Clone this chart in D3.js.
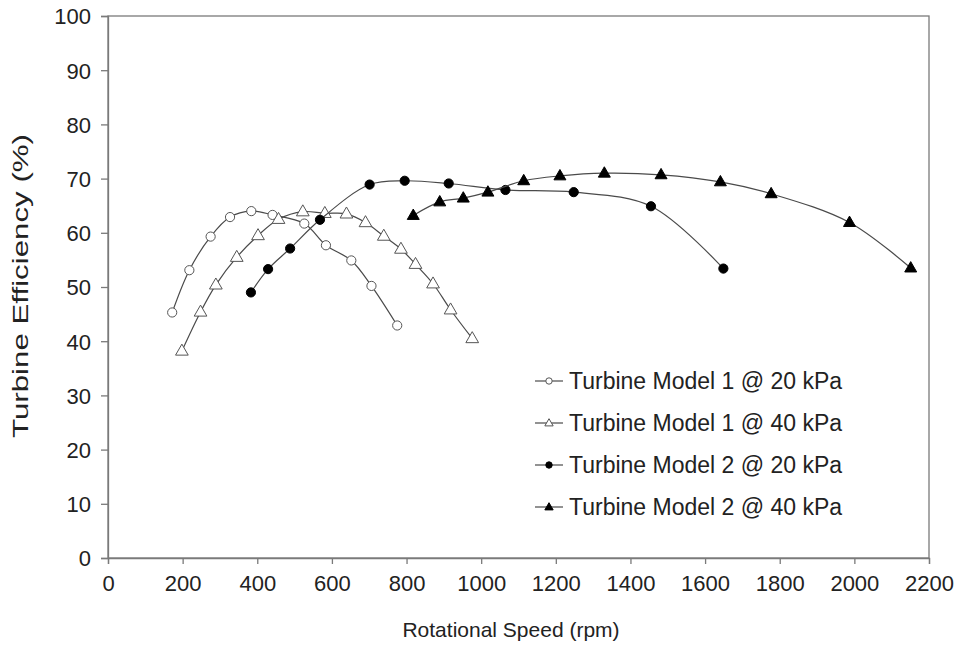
<!DOCTYPE html>
<html>
<head>
<meta charset="utf-8">
<script src="https://cdn.jsdelivr.net/npm/d3@7"></script>
<style>
  body { margin: 0; background: #fff; }
  svg text { font-family: "Liberation Sans", Arial, sans-serif; fill: #222; }
</style>
</head>
<body>
<div id="chart"></div>
<script>
// Turbine efficiency vs rotational speed

// Data
var m1_20_rpm = [172, 218, 275, 327, 384, 441, 526, 584, 652, 706, 775];
var m1_20_eff = [45.3, 53.1, 59.3, 62.9, 64.0, 63.3, 61.7, 57.7, 54.9, 50.2, 42.9];

var m1_40_rpm = [198, 248, 289, 345, 402, 457, 522, 581, 639, 690, 739, 785, 824, 871, 918, 976];
var m1_40_eff = [38.2, 45.4, 50.4, 55.5, 59.5, 62.5, 63.9, 63.6, 63.5, 61.9, 59.4, 57.0, 54.2, 50.6, 45.8, 40.5];

var m2_20_rpm = [383, 429, 488, 568, 701, 795, 913, 1065, 1248, 1455, 1649];
var m2_20_eff = [49.0, 53.3, 57.1, 62.4, 68.9, 69.6, 69.1, 67.9, 67.5, 64.9, 53.4];

var m2_40_rpm = [818, 889, 952, 1018, 1114, 1211, 1330, 1482, 1641, 1777, 1987, 2151];
var m2_40_eff = [63.2, 65.7, 66.4, 67.5, 69.6, 70.5, 71.0, 70.7, 69.4, 67.2, 61.9, 53.5];

var seriesNames = ["Turbine Model 1 @ 20 kPa", "Turbine Model 1 @ 40 kPa",
                   "Turbine Model 2 @ 20 kPa", "Turbine Model 2 @ 40 kPa"];
var xTicks = [0, 200, 400, 600, 800, 1000, 1200, 1400, 1600, 1800, 2000, 2200];
var yTicks = [0, 10, 20, 30, 40, 50, 60, 70, 80, 90, 100];

var series = [
  { name: seriesNames[0], x: m1_20_rpm, y: m1_20_eff, shape: "circle",   filled: false },
  { name: seriesNames[1], x: m1_40_rpm, y: m1_40_eff, shape: "triangle", filled: false },
  { name: seriesNames[2], x: m2_20_rpm, y: m2_20_eff, shape: "circle",   filled: true },
  { name: seriesNames[3], x: m2_40_rpm, y: m2_40_eff, shape: "triangle", filled: true }
];

var W = 961, H = 645;
var margin = { top: 16, left: 108, right: 32, bottom: 87 };
var width = W - margin.left - margin.right;
var height = H - margin.top - margin.bottom;

var svg = d3.select("#chart").append("svg")
    .attr("width", W)
    .attr("height", H);

var g = svg.append("g")
    .attr("transform", "translate(" + margin.left + "," + margin.top + ")");

var x = d3.scaleLinear().domain([0, 2200]).range([0, width]);
var y = d3.scaleLinear().domain([0, 100]).range([height, 0]);

var axisColor = "#7a7a7a";
var lineColor = "#4a4a4a";

// frame around plot area
g.append("rect")
    .attr("width", width)
    .attr("height", height)
    .attr("fill", "none")
    .attr("stroke", axisColor)
    .attr("stroke-width", 1.3);

// axes
var xAxis = d3.axisBottom(x).tickValues(xTicks).tickSize(6).tickFormat(d3.format("d"));
var yAxis = d3.axisLeft(y).tickValues(yTicks).tickSize(7).tickFormat(d3.format("d"));

g.append("g")
    .attr("class", "x axis")
    .attr("transform", "translate(0," + height + ")")
    .call(xAxis)
    .call(styleAxis)
    .selectAll(".tick text").attr("y", 0).attr("dy", 33);

g.append("g")
    .attr("class", "y axis")
    .call(yAxis)
    .call(styleAxis)
    .selectAll(".tick text").attr("x", -17).attr("dy", "0.36em");

function styleAxis(sel) {
  sel.select(".domain").attr("stroke", axisColor).attr("stroke-width", 1.3);
  sel.selectAll(".tick line").attr("stroke", axisColor).attr("stroke-width", 1.3);
  sel.selectAll(".tick text")
      .style("font-size", "22px")
      .style("font-family", "'Liberation Sans', Arial, sans-serif")
      .attr("fill", "#222");
}

// axis titles
svg.append("text")
    .attr("x", 511)
    .attr("y", 637)
    .attr("text-anchor", "middle")
    .style("font-size", "21px")
    .text("Rotational Speed (rpm)");

svg.append("text")
    .attr("transform", "translate(28,286) rotate(-90)")
    .attr("text-anchor", "middle")
    .attr("textLength", 304)
    .attr("lengthAdjust", "spacingAndGlyphs")
    .style("font-size", "22px")
    .text("Turbine Efficiency (%)");

// smoothed lines
var line = d3.line()
    .x(function(d) { return x(d[0]); })
    .y(function(d) { return y(d[1]); })
    .curve(d3.curveCatmullRom.alpha(0.5));

var triangle = d3.symbol().type(d3.symbolTriangle);

series.forEach(function(s) {
  var pts = d3.zip(s.x, s.y);
  g.append("path")
      .datum(pts)
      .attr("d", line)
      .attr("fill", "none")
      .attr("stroke", lineColor)
      .attr("stroke-width", 1.2);

  drawMarkers(g, pts, s);
});

function drawMarkers(parent, pts, s) {
  var sel = parent.selectAll(null).data(pts).enter();
  if (s.shape === "circle") {
    sel.append("circle")
        .attr("cx", function(d) { return x(d[0]); })
        .attr("cy", function(d) { return y(d[1]); })
        .attr("r", 4.6)
        .attr("fill", s.filled ? "#000" : "#fff")
        .attr("stroke", s.filled ? "#000" : "#555")
        .attr("stroke-width", 1);
  } else {
    sel.append("path")
        .attr("d", triangle.size(s.filled ? 62 : 70))
        .attr("transform", function(d) { return "translate(" + x(d[0]) + "," + (y(d[1]) + 0.5) + ")"; })
        .attr("fill", s.filled ? "#000" : "#fff")
        .attr("stroke", s.filled ? "#000" : "#555")
        .attr("stroke-width", 1);
  }
}

// legend
var legend = svg.append("g")
    .attr("class", "legend")
    .selectAll("g")
    .data(series)
    .enter().append("g")
    .attr("transform", function(d, i) { return "translate(535," + (381 + i * 42) + ")"; });

legend.append("line")
    .attr("x1", 0).attr("x2", 28)
    .attr("stroke", lineColor)
    .attr("stroke-width", 1.2);

legend.each(function(s) {
  var lg = d3.select(this);
  if (s.shape === "circle") {
    lg.append("circle")
        .attr("cx", 14).attr("r", 3.2)
        .attr("fill", s.filled ? "#000" : "#fff")
        .attr("stroke", s.filled ? "#000" : "#555");
  } else {
    lg.append("path")
        .attr("d", d3.symbol().type(d3.symbolTriangle).size(30)())
        .attr("transform", "translate(14,0.5)")
        .attr("fill", s.filled ? "#000" : "#fff")
        .attr("stroke", s.filled ? "#000" : "#555");
  }
});

legend.append("text")
    .attr("x", 34)
    .attr("dy", "0.36em")
    .style("font-size", "23px")
    .text(function(d) { return d.name; });
</script>
</body>
</html>
